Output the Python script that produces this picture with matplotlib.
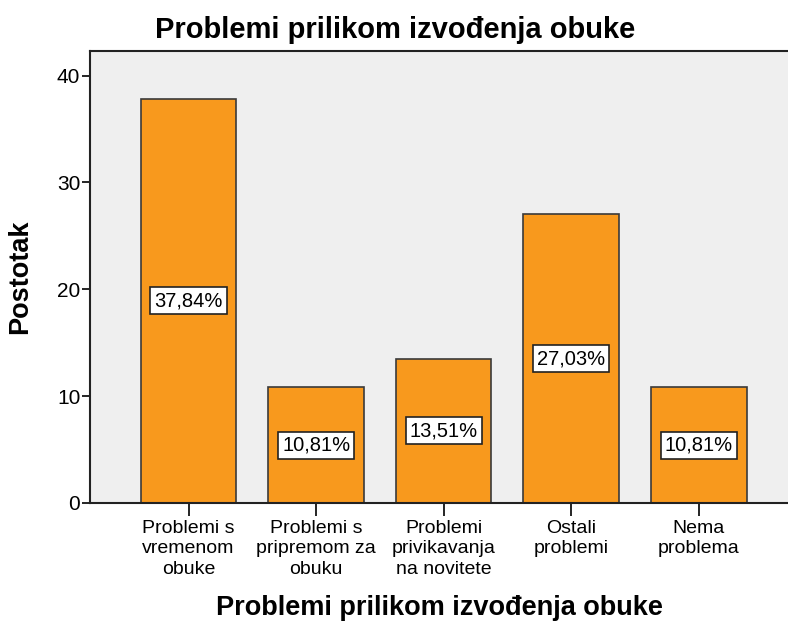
import matplotlib.pyplot as plt

plt.rcParams['font.family'] = ['Liberation Sans', 'DejaVu Sans']

categories = ["Problemi s\nvremenom\nobuke", "Problemi s\npripremom za\nobuku",
              "Problemi\nprivikavanja\nna novitete", "Ostali\nproblemi", "Nema\nproblema"]
percent = [37.84, 10.81, 13.51, 27.03, 10.81]
yticks = [0, 10, 20, 30, 40]

fig = plt.figure(figsize=(7.88, 6.26), dpi=100)
ax = fig.add_axes([90 / 788, 123 / 626, 698 / 788, 452 / 626])
ax.set_facecolor('#EFEFEF')

x = list(range(len(categories)))
ax.bar(x, percent, width=0.75, color='#F8991D', edgecolor='#3a3a3a', linewidth=1.2, zorder=2)

# value boxes at half height of each bar
for xi, v in zip(x, percent):
    ax.text(xi, v / 2, f"{v:.2f}".replace('.', ',') + "%", ha='center', va='center',
            fontsize=14.5, zorder=3,
            bbox=dict(boxstyle='square,pad=0.2', facecolor='white', edgecolor='#222222', linewidth=1.2))

ax.set_xlim(-0.773, 4.70)
ax.set_ylim(0, 42.3)
ax.set_xticks(x)
ax.set_xticklabels(categories, fontsize=14, linespacing=1.28)
ax.set_yticks(yticks)
ax.tick_params(axis='y', labelsize=15, length=6, width=1.2, direction='out', pad=1)
ax.tick_params(axis='x', length=9, width=1.2, direction='out', pad=3)

for s in ['left', 'bottom', 'top']:
    ax.spines[s].set_linewidth(1.5)
    ax.spines[s].set_color('#222222')
ax.spines['right'].set_visible(False)

ax.set_ylabel("Postotak", fontsize=19.5, fontweight='bold', labelpad=17)
ax.set_xlabel("Problemi prilikom izvođenja obuke", fontsize=19.5, fontweight='bold', labelpad=12)
fig.text(395 / 788, 1 - 30 / 626, "Problemi prilikom izvođenja obuke", ha='center', va='center',
         fontsize=21, fontweight='bold')

fig.savefig('out.png', dpi=100)
